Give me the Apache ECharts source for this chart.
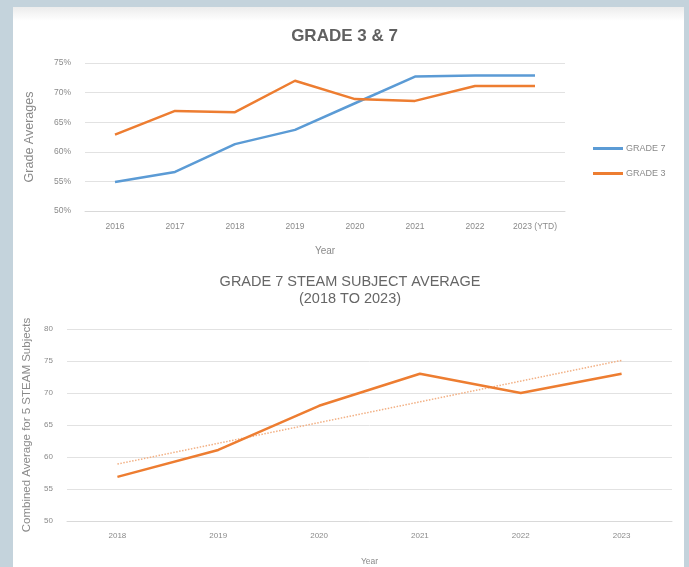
<!DOCTYPE html>
<html><head><meta charset="utf-8">
<script src="https://cdn.jsdelivr.net/npm/echarts@6/dist/echarts.min.js"></script>
<style>html,body{margin:0;padding:0;background:#c4d3dc}#c{width:689px;height:567px}</style>
</head><body><div id="c"></div>
<script>
const years1 = ['2016','2017','2018','2019','2020','2021','2022','2023 (YTD)'];
const grade7 = [54.9,56.6,61.3,63.7,68.2,72.7,72.9,72.9];
const grade3 = [62.9,66.9,66.7,72.0,68.9,68.6,71.1,71.1];
const years2 = ['2018','2019','2020','2021','2022','2023'];
const steam = [56.9,61.1,68.0,73.0,70.0,73.0];
const steamTrend = [58.9,null,null,null,null,75.1];

const FONT = '"Liberation Sans", Arial, sans-serif';
const LBL = '#8a8a8a';
const GRID = '#e2e2e2';
const chart = echarts.init(document.getElementById('c'), null, {renderer:'canvas'});
chart.setOption({
  backgroundColor: '#c4d3dc',
  textStyle: {fontFamily: FONT},
  animation: false,
  graphic: [
    {type:'rect', shape:{x:13,y:7,width:671,height:560}, style:{fill:'#ffffff'}, z:-10},
    {type:'rect', shape:{x:13,y:7,width:671,height:14}, style:{fill:{type:'linear',x:0,y:0,x2:0,y2:1,colorStops:[{offset:0,color:'#ececec'},{offset:1,color:'#ffffff'}]}}, z:-9}
  ],
  title: [
    {text:'GRADE 3 & 7', left:'center', top:23, textStyle:{fontFamily:FONT, fontSize:17, fontWeight:'bold', color:'#606060'}},
    {text:'GRADE 7 STEAM SUBJECT AVERAGE\n(2018 TO 2023)', left:345, top:268, textAlign:'center', textStyle:{fontFamily:FONT, fontSize:14.5, fontWeight:'normal', color:'#666666', lineHeight:17, align:'center'}}
  ],
  legend: {
    data:['GRADE 7','GRADE 3'], orient:'vertical', left:588, top:139,
    icon:'rect', itemWidth:30, itemHeight:3, itemGap:16,
    textStyle:{fontFamily:FONT, fontSize:9, color:LBL, padding:[0,0,0,-2]}
  },
  grid: [
    {left:85, top:63, width:480, height:148},
    {left:67, top:329, width:605, height:195}
  ],
  xAxis: [
    {type:'category', gridIndex:0, data:years1, boundaryGap:true,
     axisLine:{lineStyle:{color:'#d9d9d9'}}, axisTick:{show:false},
     axisLabel:{color:LBL, fontSize:8.5, margin:11},
     name:'Year', nameLocation:'middle', nameGap:35, nameTextStyle:{color:LBL, fontSize:10}},
    {type:'category', gridIndex:1, data:years2, boundaryGap:true,
     axisLine:{lineStyle:{color:'#d9d9d9'}}, axisTick:{show:false},
     axisLabel:{color:LBL, fontSize:8, margin:11},
     name:'Year', nameLocation:'middle', nameGap:36, nameTextStyle:{color:LBL, fontSize:8.5}}
  ],
  yAxis: [
    {type:'value', gridIndex:0, min:50, max:75, interval:5,
     axisLine:{show:false}, axisTick:{show:false},
     axisLabel:{color:LBL, fontSize:8.5, margin:14, formatter:'{value}%'},
     splitLine:{lineStyle:{color:GRID}},
     name:'Grade Averages', nameLocation:'middle', nameGap:49, nameTextStyle:{color:LBL, fontSize:12.5}},
    {type:'value', gridIndex:1, min:50, max:80, interval:5,
     axisLine:{show:false}, axisTick:{show:false},
     axisLabel:{color:LBL, fontSize:8, margin:14},
     splitLine:{lineStyle:{color:GRID}},
     name:'Combined Average for 5 STEAM Subjects', nameLocation:'middle', nameGap:34, nameTextStyle:{color:LBL, fontSize:11.5}}
  ],
  series: [
    {name:'GRADE 7', type:'line', xAxisIndex:0, yAxisIndex:0, data:grade7, showSymbol:false, symbol:'none', lineStyle:{color:'#5b9bd5', width:2.5}, itemStyle:{color:'#5b9bd5'}},
    {name:'GRADE 3', type:'line', xAxisIndex:0, yAxisIndex:0, data:grade3, showSymbol:false, symbol:'none', lineStyle:{color:'#ed7d31', width:2.5}, itemStyle:{color:'#ed7d31'}},
    {name:'Trend', type:'line', xAxisIndex:1, yAxisIndex:1, data:steamTrend, connectNulls:true, showSymbol:false, symbol:'none', lineStyle:{color:'#f2b084', width:1.5, type:'dotted'}},
    {name:'STEAM', type:'line', xAxisIndex:1, yAxisIndex:1, data:steam, showSymbol:false, symbol:'none', lineStyle:{color:'#ed7d31', width:2.5}}
  ]
});
</script></body></html>
